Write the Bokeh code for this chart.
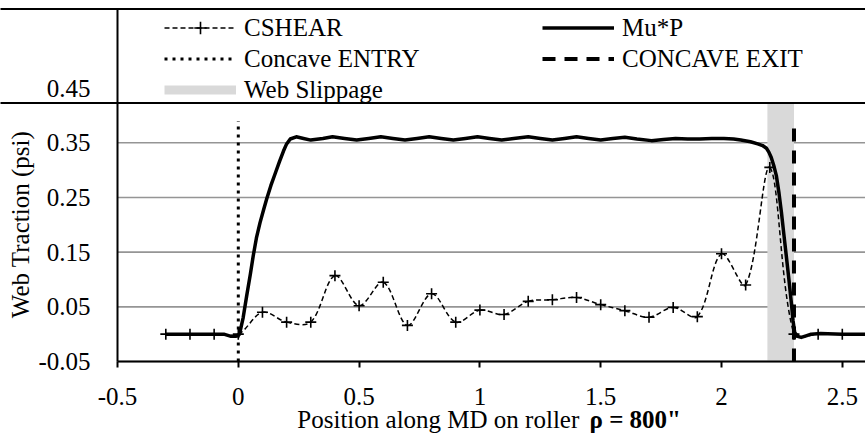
import numpy as np
from bokeh.plotting import figure
from bokeh.models import Range1d, FixedTicker, Legend, LegendItem, Label
from bokeh.embed import file_html
from bokeh.resources import INLINE

# ---------------- data ----------------
x_ticks = [-0.5, 0, 0.5, 1, 1.5, 2, 2.5]
x_tick_labels = ["-0.5", "0", "0.5", "1", "1.5", "2", "2.5"]
y_ticks = [-0.05, 0.05, 0.15, 0.25, 0.35, 0.45]
y_tick_labels = ["-0.05", "0.05", "0.15", "0.25", "0.35", "0.45"]

cshear_x = [-0.3, -0.2, -0.1, 0.0, 0.1, 0.2, 0.3, 0.4, 0.5, 0.6, 0.7, 0.8, 0.9, 1.0,
            1.1, 1.2, 1.3, 1.4, 1.5, 1.6, 1.7, 1.8, 1.9, 2.0, 2.1, 2.2, 2.3, 2.4, 2.5, 2.6]
cshear_y = [0.0, 0.0, 0.0, 0.0, 0.040, 0.022, 0.022, 0.107, 0.052, 0.095, 0.016, 0.074,
            0.022, 0.044, 0.036, 0.060, 0.063, 0.067, 0.054, 0.043, 0.031, 0.049, 0.032,
            0.147, 0.090, 0.305, 0.0, 0.0, 0.0, 0.0]

mup_x = [-0.30, -0.20, -0.10, -0.06, -0.03, -0.01, 0.005, 0.02, 0.035, 0.05, 0.062, 0.075,
         0.09, 0.105, 0.118, 0.135, 0.152, 0.17, 0.187, 0.20, 0.215, 0.24, 0.27, 0.30,
         0.35, 0.39, 0.44, 0.49, 0.54, 0.59, 0.64, 0.69, 0.74, 0.79, 0.84, 0.89, 0.94,
         0.99, 1.04, 1.09, 1.14, 1.20, 1.25, 1.30, 1.35, 1.40, 1.45, 1.50, 1.55, 1.60,
         1.65, 1.71, 1.76, 1.81, 1.86, 1.91, 1.96, 2.01, 2.05, 2.08, 2.12, 2.15, 2.17,
         2.186, 2.196, 2.206, 2.216, 2.227, 2.238, 2.248, 2.258, 2.268, 2.279, 2.289,
         2.296, 2.303, 2.315, 2.33, 2.35, 2.371, 2.41, 2.50, 2.60]
mup_y = [0.000, 0.000, 0.000, 0.000, -0.004, -0.004, 0.000, 0.030, 0.071, 0.110, 0.144, 0.176,
         0.204, 0.228, 0.248, 0.272, 0.293, 0.315, 0.335, 0.348, 0.357, 0.361, 0.358, 0.355,
         0.358, 0.361, 0.358, 0.355, 0.358, 0.361, 0.358, 0.355, 0.358, 0.361, 0.358, 0.355, 0.358,
         0.361, 0.358, 0.355, 0.358, 0.361, 0.358, 0.355, 0.358, 0.361, 0.358, 0.355, 0.358, 0.360,
         0.357, 0.354, 0.356, 0.358, 0.357, 0.357, 0.358, 0.358, 0.357, 0.355, 0.352, 0.348, 0.345,
         0.340, 0.333, 0.323, 0.309, 0.290, 0.258, 0.223, 0.183, 0.144, 0.100, 0.058,
         0.025, 0.003, -0.004, -0.006, -0.003, 0.000, 0.001, 0.000, 0.000]

entry_x = 0.0
entry_top = 0.39
exit_x = 2.30
exit_top = 0.38
slip_start = 2.19
slip_end = 2.30

# ---------------- layout (pixels) ----------------
FIG_W, FIG_H = 865, 441
AX_LEFT_PX = 117      # canvas x of the value axis (x = -0.5)
AX_BOTTOM_PX = 361    # canvas y of the category axis (y = -0.05)
PPX = 241.6           # pixels per x unit
PPY = 546.7           # pixels per y unit
XA, YA = x_ticks[0], y_ticks[0]


def dy(py):
    """canvas pixel row -> y data value"""
    return YA + (AX_BOTTOM_PX - py) / PPY


X0 = XA - AX_LEFT_PX / PPX
X1 = XA + (FIG_W - AX_LEFT_PX) / PPX
Y0 = dy(FIG_H)
Y1 = dy(0)
BOX_TOP = dy(8.5)
BOX_BOTTOM = dy(102.5)

FONT = "'Liberation Serif', 'DejaVu Serif', serif"
FS = "25px"

p = figure(width=FIG_W, height=FIG_H, output_backend="svg", toolbar_location=None,
           x_range=Range1d(X0, X1), y_range=Range1d(Y0, Y1),
           min_border_left=0, min_border_right=0, min_border_top=0,
           min_border_bottom=0)
p.outline_line_color = None
p.background_fill_color = "white"
p.border_fill_color = "white"
p.grid.visible = False

# axes placed at fixed locations inside the frame
p.xaxis.fixed_location = YA
p.yaxis.fixed_location = XA
p.xaxis.bounds = (XA, X1 + 1)
p.yaxis.bounds = (YA, BOX_TOP)
p.xaxis.ticker = FixedTicker(ticks=x_ticks)
p.xaxis.major_label_overrides = {t: l for t, l in zip(x_ticks, x_tick_labels)}
p.yaxis.ticker = FixedTicker(ticks=y_ticks)
p.yaxis.major_label_overrides = {t: l for t, l in zip(y_ticks, y_tick_labels)}
for ax in (p.xaxis, p.yaxis):
    ax.axis_line_color = "black"
    ax.axis_line_width = 2
    ax.minor_tick_line_color = None
    ax.major_label_text_font = FONT
    ax.major_label_text_font_size = FS
    ax.major_label_text_color = "black"
p.xaxis.major_tick_in = 0
p.xaxis.major_tick_out = 6
p.xaxis.major_tick_line_width = 2
p.xaxis.major_tick_line_color = "black"
p.xaxis.major_label_standoff = 20
p.yaxis.major_tick_line_color = None
p.yaxis.major_tick_in = 0
p.yaxis.major_tick_out = 0
p.yaxis.major_label_standoff = 27

# horizontal gridlines at the value ticks
p.segment(x0=[XA] * len(y_ticks), x1=[X1 + 1] * len(y_ticks), y0=y_ticks, y1=y_ticks,
          line_color="#959595", line_width=1.6, level="underlay")

# web slippage band
p.quad(left=[slip_start], right=[slip_end], bottom=[YA], top=[y_ticks[-1]],
       fill_color="#d9d9d9", line_color=None)

# CSHEAR smoothed line: cubic Bezier segments between the read points
# (control handles from neighbouring points, weighted by on-screen segment lengths)
cx = np.array(cshear_x)
cy = np.array(cshear_y)
xp = np.concatenate([[cx[0]], cx, [cx[-1]]])
yp = np.concatenate([[cy[0]], cy, [cy[-1]]])
seg = np.hypot(np.diff(xp) * PPX, np.diff(yp) * PPY)   # screen lengths
i = np.arange(len(cx) - 1)
d01, d12, d23 = seg[i], seg[i + 1], seg[i + 2]
f0 = np.where(d01 + d12 > 0, d12 / np.maximum(d01 + d12, 1e-9), 0.5) / 3.0
f1 = np.where(d12 + d23 > 0, d12 / np.maximum(d12 + d23, 1e-9), 0.5) / 3.0
bx0, by0 = cx[:-1], cy[:-1]
bx1, by1 = cx[1:], cy[1:]
c0x = bx0 + (xp[i + 2] - xp[i]) * f0
c0y = by0 + (yp[i + 2] - yp[i]) * f0
c1x = bx1 - (xp[i + 3] - xp[i + 1]) * f1
c1y = by1 - (yp[i + 3] - yp[i + 1]) * f1
p.bezier(x0=bx0, y0=by0, x1=bx1, y1=by1, cx0=c0x, cy0=c0y, cx1=c1x, cy1=c1y,
         line_color="black", line_width=1.5, line_dash="5 3")
cs_proxy = p.line(x=[np.nan], y=[np.nan], line_color="black", line_width=1.5,
                  line_dash="5 3")
cs_pts = p.scatter(cshear_x, cshear_y, marker="cross", size=11, line_color="black",
                   line_width=1.6)

# Mu*P
mup_r = p.line(mup_x, mup_y, line_color="black", line_width=3.5, line_join="round")

# entry / exit lines
entry_r = p.line([entry_x, entry_x], [YA, entry_top], line_color="black", line_width=3,
                 line_dash="3 5")
exit_r = p.line([exit_x, exit_x], [YA, exit_top], line_color="black", line_width=4,
                line_dash="13 9")

web_proxy = p.line(x=[np.nan], y=[np.nan], line_color="#d9d9d9", line_width=9)

# legend box (white area with black border across the top of the chart)
p.quad(left=[X0 - 1], right=[X1 + 1], bottom=[BOX_BOTTOM], top=[BOX_TOP],
       fill_color="white", line_color="black", line_width=2)

legend = Legend(items=[
    LegendItem(label="CSHEAR", renderers=[cs_proxy, cs_pts]),
    LegendItem(label="Concave ENTRY", renderers=[entry_r]),
    LegendItem(label="Web Slippage", renderers=[web_proxy]),
    LegendItem(label="Mu*P", renderers=[mup_r]),
    LegendItem(label="CONCAVE EXIT", renderers=[exit_r]),
], location=(164, FIG_H - 105), orientation="vertical", nrows=3)
legend.glyph_width = 72
legend.glyph_height = 31
legend.label_height = 31
legend.label_width = 298
legend.label_standoff = 8
legend.spacing = -2
legend.padding = 0
legend.margin = 0
legend.border_line_alpha = 0
legend.background_fill_alpha = 0
legend.label_text_font = FONT
legend.label_text_font_size = FS
legend.label_text_color = "black"
p.add_layout(legend)

# axis titles
p.add_layout(Label(x=20, y=FIG_H - 224, x_units="screen", y_units="screen",
                   text="Web Traction (psi)", angle=np.pi / 2, text_align="center",
                   text_baseline="middle", text_font=FONT, text_font_size=FS,
                   text_color="black"))
p.add_layout(Label(x=585, y=FIG_H - 419, x_units="screen", y_units="screen",
                   text="Position along MD on roller ", text_align="right",
                   text_baseline="middle", text_font=FONT, text_font_size=FS,
                   text_color="black"))
p.add_layout(Label(x=589, y=FIG_H - 419, x_units="screen", y_units="screen",
                   text="\u03c1 = 800\"", text_align="left", text_font_style="bold",
                   text_baseline="middle", text_font=FONT, text_font_size=FS,
                   text_color="black"))

open("out.html", "w").write(file_html(p, INLINE))
